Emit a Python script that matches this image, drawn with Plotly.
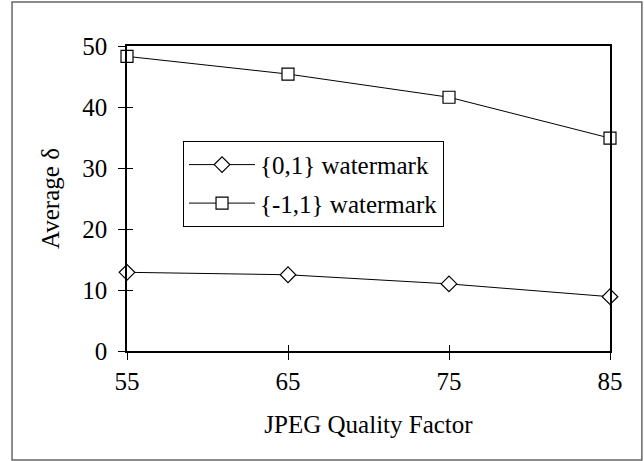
import plotly.graph_objects as go

quality = [55, 65, 75, 85]
wm01 = [12.9, 12.5, 11.0, 8.9]
wm11 = [48.3, 45.4, 41.6, 34.9]
x_ticks = [55, 65, 75, 85]
y_ticks = [0, 10, 20, 30, 40, 50]

FONT = "Liberation Serif, Times New Roman, serif"

fig = go.Figure()
fig.add_trace(go.Scatter(
    x=quality, y=wm01, mode="lines+markers", name="{0,1} watermark",
    line=dict(color="black", width=1),
    marker=dict(symbol="diamond", size=12, color="white", line=dict(color="black", width=1.2)),
    legendgroup="a", cliponaxis=False))
fig.add_trace(go.Scatter(
    x=quality, y=wm11, mode="lines+markers", name="{-1,1} watermark",
    line=dict(color="black", width=1),
    marker=dict(symbol="square", size=12, color="white", line=dict(color="black", width=1.2)),
    legendgroup="b", cliponaxis=False))
# invisible trace on overlay axes so that the inner tick halves are drawn
fig.add_trace(go.Scatter(x=[quality[0]], y=[wm01[0]], xaxis="x2", yaxis="y2",
                         mode="markers", marker=dict(opacity=0), showlegend=False,
                         hoverinfo="skip"))

fig.update_layout(
    width=644, height=461,
    margin=dict(l=127, r=34, t=46, b=110),
    paper_bgcolor="white", plot_bgcolor="white",
    font=dict(family=FONT, size=25, color="black"),
    showlegend=True,
    legend=dict(x=0.116, y=0.689, xanchor="left", yanchor="top",
                bordercolor="black", borderwidth=1, bgcolor="white",
                font=dict(family=FONT, size=25), itemwidth=66,
                traceorder="grouped", tracegroupgap=3),
    xaxis=dict(range=[55, 85], tickvals=x_ticks, showgrid=False, zeroline=False,
               showline=True, linecolor="black", linewidth=1.5, mirror=True,
               ticks="outside", ticklen=7, tickcolor="black", tickwidth=1,
               tickfont=dict(family=FONT, size=25),
               title=dict(text="JPEG Quality Factor", font=dict(family=FONT, size=25), standoff=22)),
    yaxis=dict(range=[0, 50], tickvals=y_ticks, showgrid=False, zeroline=False,
               showline=True, linecolor="black", linewidth=1.5, mirror=True,
               ticks="outside", ticklen=7, tickcolor="black", tickwidth=1,
               ticklabelstandoff=6,
               tickfont=dict(family=FONT, size=25),
               title=dict(text="Average δ", font=dict(family=FONT, size=25), standoff=16)),
    xaxis2=dict(overlaying="x", matches="x", range=[55, 85], tickvals=x_ticks,
                showticklabels=False, showgrid=False, zeroline=False,
                ticks="inside", ticklen=6, tickcolor="black", tickwidth=1, side="bottom"),
    yaxis2=dict(overlaying="y", matches="y", range=[0, 50], tickvals=y_ticks,
                showticklabels=False, showgrid=False, zeroline=False,
                ticks="inside", ticklen=6, tickcolor="black", tickwidth=1, side="left"),
    shapes=[dict(type="rect", xref="paper", yref="paper",
                 x0=-0.238, x1=1.066, y0=-0.357, y1=1.144,
                 line=dict(color="#666666", width=1.5), fillcolor="rgba(0,0,0,0)",
                 layer="below")],
)

fig.write_html("out.html", config={"displayModeBar": False},
               post_script="document.body.style.margin='0';document.body.style.overflow='hidden';")
